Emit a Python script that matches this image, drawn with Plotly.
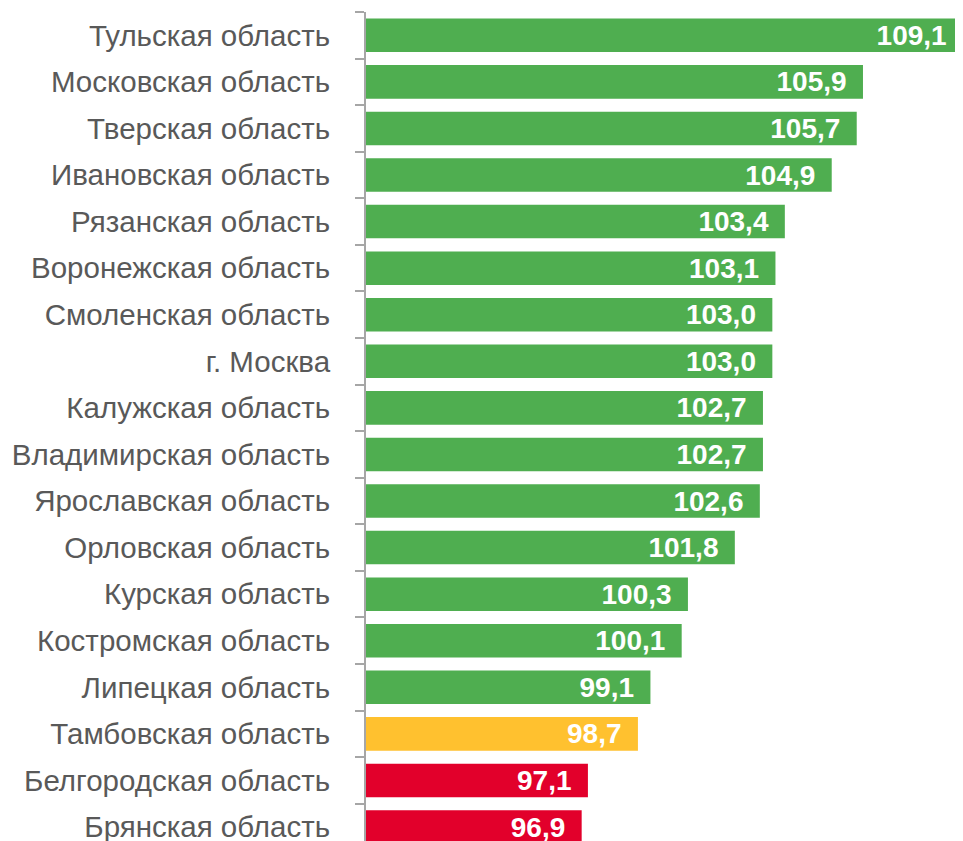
import plotly.graph_objects as go

regions = [
    "Тульская область", "Московская область", "Тверская область",
    "Ивановская область", "Рязанская область", "Воронежская область",
    "Смоленская область", "г. Москва", "Калужская область",
    "Владимирская область", "Ярославская область", "Орловская область",
    "Курская область", "Костромская область", "Липецкая область",
    "Тамбовская область", "Белгородская область", "Брянская область",
]
values = [109.1, 105.9, 105.7, 104.9, 103.4, 103.1, 103.0, 103.0, 102.7,
          102.7, 102.6, 101.8, 100.3, 100.1, 99.1, 98.7, 97.1, 96.9]

GREEN = "#4FAE50"
YELLOW = "#FFC12F"
RED = "#E2002B"


def bar_color(v):
    if v >= 99:
        return GREEN
    if v >= 98:
        return YELLOW
    return RED


colors = [bar_color(v) for v in values]
labels = [f"{v:.1f}".replace(".", ",") + "\u00a0\u2009" for v in values]

fig = go.Figure(go.Bar(
    x=values,
    y=regions,
    orientation="h",
    marker=dict(color=colors, line=dict(width=0)),
    text=labels,
    textposition="inside",
    insidetextanchor="end",
    textangle=0,
    constraintext="none",
    insidetextfont=dict(family="Liberation Sans, Arial", size=28, color="white", weight="bold"),
    hoverinfo="skip",
))

# page body adds 8px on the left/top, so the figure is a bit smaller than the window
fig.update_layout(
    width=955, height=833,
    margin=dict(l=358, r=0, t=4, b=0),
    plot_bgcolor="white",
    paper_bgcolor="white",
    bargap=0.28,
    showlegend=False,
)

fig.update_xaxes(
    range=[90, 109.1],
    visible=False,
    showgrid=False,
    zeroline=False,
)

fig.update_yaxes(
    autorange=False,
    range=[17.3, -0.5],
    showgrid=False,
    showline=True,
    linecolor="#A6A6A6",
    linewidth=2,
    ticks="outside",
    tickson="boundaries",
    ticklen=9,
    tickwidth=2,
    tickcolor="#A6A6A6",
    ticklabelstandoff=28,
    automargin=False,
    tickfont=dict(family="Liberation Sans, Arial", size=29.5, color="#595959"),
)

fig.write_html("out.html")
